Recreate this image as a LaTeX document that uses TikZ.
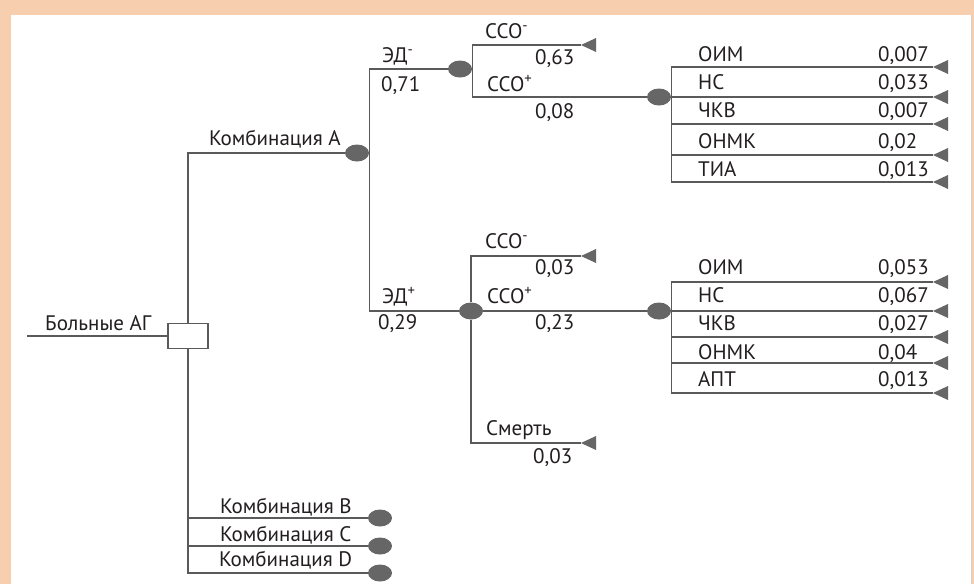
\documentclass[tikz,border=0pt]{standalone}
\usepackage{fontspec}
\setmainfont{PT Sans}
\usetikzlibrary{shapes.geometric}
\definecolor{peach}{HTML}{F8CFAE}
\definecolor{edge}{HTML}{5A5A5A}
\definecolor{knot}{HTML}{666666}
\definecolor{ink}{HTML}{231F20}

\begin{document}
\begin{tikzpicture}[
  x=1pt,y=-1pt,
  ln/.style={draw=edge,line width=1.2pt},
  chance/.style={ellipse,fill=knot,minimum width=24pt,minimum height=17pt,inner sep=0pt},
  choice/.style={draw=edge,line width=1.2pt,fill=white,minimum width=40pt,minimum height=25pt,inner sep=0pt},
  txt/.style={anchor=base west,inner sep=0pt,text=ink,font=\fontsize{21}{24}\selectfont},
  tip/.style={fill=knot}
]
% Frame
\fill[peach] (0,0) rectangle (974,584);
\fill[white] (11,15) rectangle (971,584);
\draw[gray!35] (971,15) -- (971,584);
\useasboundingbox (0,0) rectangle (974,584);

% Decision and chance nodes
\coordinate (start) at (27,336);
\node[choice] (dec) at (188,336) {};
\node[chance] (kA) at (357,153) {};
\node[chance] (kB) at (380,518) {};
\node[chance] (kC) at (380,546) {};
\node[chance] (kD) at (380,573) {};
\node[chance] (edm) at (460,69) {};
\node[chance] (edp) at (471,311) {};
\node[chance] (ssoA) at (659,97) {};
\node[chance] (ssoB) at (659,311) {};
% Terminal ends
\coordinate (t1) at (581,45);
\coordinate (t2) at (581,256);
\coordinate (t3) at (581,443);

\draw[ln] (start) -- (dec);
\draw[ln] (dec.north) |- (kA);
\foreach \k in {kB,kC,kD}
  \draw[ln] (dec.south) |- (\k);
\draw[ln] (kA.east) |- (edm);
\draw[ln] (kA.east) |- (edp);
\draw[ln] (edm.east) |- (t1);
\draw[ln] (edm.east) |- (ssoA);
\draw[ln] (edp.north) |- (t2);
\draw[ln] (edp) -- (ssoB);
\draw[ln] (edp.south) |- (t3);
\foreach \t in {t1,t2,t3}
  \fill[tip] (\t) -- ++(15,-7) -- ++(0,14) -- cycle;

% Labels
\node[txt] (lroot) at (45,330) {Больные АГ};
\node[txt] (lA) at (209,145) {Комбинация A};
\node[txt] (lB) at (220,513) {Комбинация B};
\node[txt] (lC) at (220,541) {Комбинация C};
\node[txt] (lD) at (219,566) {Комбинация D};
\node[txt] (ledm) at (382,62) {ЭД\textsuperscript{-}};
\node[txt] (pedm) at (381,91) {0,71};
\node[txt] (ledp) at (382,303) {ЭД\textsuperscript{+}};
\node[txt] (pedp) at (378,329) {0,29};
\node[txt] (lsmA) at (485,38) {ССО\textsuperscript{-}};
\node[txt] (psmA) at (535,64) {0,63};
\node[txt] (lspA) at (487,91) {ССО\textsuperscript{+}};
\node[txt] (pspA) at (535,118) {0,08};
\node[txt] (lsmB) at (485,248) {ССО\textsuperscript{-}};
\node[txt] (psmB) at (535,274) {0,03};
\node[txt] (lspB) at (487,303) {ССО\textsuperscript{+}};
\node[txt] (pspB) at (535,329) {0,23};
\node[txt] (ldeath) at (486,435) {Смерть};
\node[txt] (pdeath) at (533,463) {0,03};

% Outcomes after CCO+
\foreach \nm/\pv/\b/\ly [count=\i] in {ОИМ/{0,007}/61/67, НС/{0,033}/89/97, ЧКВ/{0,007}/117/124, ОНМК/{0,02}/148/155, ТИА/{0,013}/176/182} {
  \coordinate (oa\i) at (933,\ly);
  \draw[ln] (ssoA.east) |- (oa\i);
  \fill[tip] (oa\i) -- ++(15,-7) -- ++(0,14) -- cycle;
  \node[txt] (na\i) at (698,\b) {\nm};
  \node[txt] (va\i) at (878,\b) {\pv};
}
\foreach \nm/\pv/\b/\ly [count=\i] in {ОИМ/{0,053}/274/282, НС/{0,067}/302/311, ЧКВ/{0,027}/330/337, ОНМК/{0,04}/359/363, АПТ/{0,013}/386/393} {
  \coordinate (ob\i) at (933,\ly);
  \draw[ln] (ssoB.east) |- (ob\i);
  \fill[tip] (ob\i) -- ++(15,-7) -- ++(0,14) -- cycle;
  \node[txt] (nb\i) at (698,\b) {\nm};
  \node[txt] (vb\i) at (878,\b) {\pv};
}
\end{tikzpicture}
\end{document}
